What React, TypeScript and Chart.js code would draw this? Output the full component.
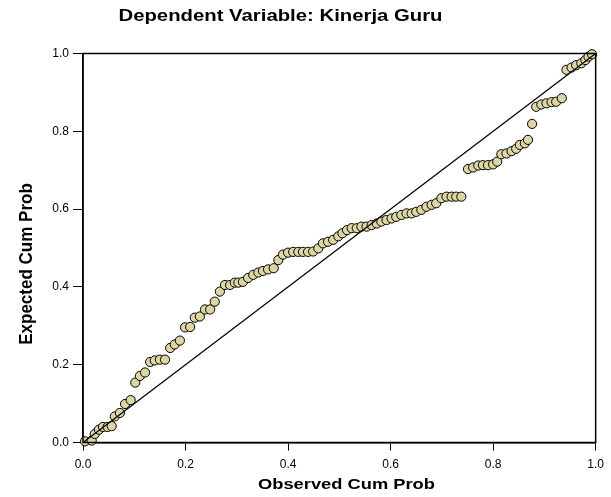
import React, { useEffect, useRef } from "react";
import { Chart, registerables } from "chart.js";

Chart.register(...registerables);

const chartTitle = "Dependent Variable: Kinerja Guru";
const xAxisTitle = "Observed Cum Prob";
const yAxisTitle = "Expected Cum Prob";
const tickValues = [0, 0.2, 0.4, 0.6, 0.8, 1.0];

const observedCumProb = [
  0.004, 0.017, 0.023, 0.031, 0.039, 0.048, 0.056, 0.062, 0.072, 0.082, 0.093, 0.102,
  0.111, 0.121, 0.131, 0.140, 0.150, 0.160, 0.170, 0.179, 0.189, 0.199, 0.209, 0.218,
  0.228, 0.238, 0.248, 0.257, 0.267, 0.277, 0.287, 0.296, 0.303, 0.312, 0.322, 0.332,
  0.342, 0.351, 0.361, 0.372, 0.381,
  0.390, 0.400, 0.410, 0.420, 0.429, 0.439, 0.449, 0.459, 0.468, 0.478, 0.488, 0.498,
  0.506, 0.515, 0.524, 0.534, 0.543, 0.553, 0.563, 0.573, 0.582, 0.592, 0.602, 0.611,
  0.621, 0.631, 0.641, 0.650, 0.660, 0.670, 0.680, 0.689, 0.699, 0.709, 0.719, 0.728,
  0.738,
  0.751, 0.761, 0.771, 0.780, 0.790, 0.800, 0.808, 0.816, 0.826, 0.836, 0.845, 0.852,
  0.862, 0.868, 0.876, 0.884, 0.894, 0.904, 0.914, 0.923, 0.934,
  0.943, 0.953, 0.962, 0.972, 0.980, 0.986, 0.993,
];

const expectedCumProb = [
  0.003, 0.005, 0.022, 0.033, 0.040, 0.040, 0.042, 0.067, 0.076, 0.099, 0.109, 0.154,
  0.171, 0.180, 0.207, 0.211, 0.213, 0.213, 0.243, 0.252, 0.262, 0.296, 0.297, 0.321,
  0.324, 0.342, 0.342, 0.362, 0.388, 0.405, 0.405, 0.411, 0.411, 0.413, 0.423, 0.431,
  0.437, 0.441, 0.445, 0.448, 0.469,
  0.483, 0.488, 0.490, 0.490, 0.490, 0.490, 0.491, 0.499, 0.512, 0.516, 0.521, 0.530,
  0.538, 0.546, 0.551, 0.551, 0.555, 0.555, 0.559, 0.563, 0.568, 0.572, 0.576, 0.580,
  0.585, 0.589, 0.589, 0.593, 0.598, 0.606, 0.611, 0.615, 0.628, 0.632, 0.632, 0.632,
  0.632,
  0.703, 0.707, 0.712, 0.713, 0.713, 0.715, 0.722, 0.741, 0.743, 0.749, 0.755, 0.765,
  0.769, 0.778, 0.819, 0.863, 0.869, 0.872, 0.875, 0.876, 0.885,
  0.958, 0.964, 0.970, 0.975, 0.983, 0.992, 0.998,
];

const diagonalX = [0, 1];
const diagonalY = [0, 1];

const FONT = "'Liberation Sans', Arial, sans-serif";

function stretchedText(ctx: any, text: string, cx: number, cy: number, sx: number, rotate: boolean) {
  ctx.save();
  ctx.translate(cx, cy);
  if (rotate) {
    ctx.rotate(-Math.PI / 2);
    ctx.scale(1, sx);
  } else {
    ctx.scale(sx, 1);
  }
  ctx.fillText(text, 0, 0);
  ctx.restore();
}

const textPlugin = {
  id: "textPlugin",
  afterDraw(chart: any) {
    const { ctx, chartArea } = chart;
    ctx.save();
    ctx.strokeStyle = "#000";
    ctx.lineWidth = 1.5;
    ctx.strokeRect(chartArea.left, chartArea.top, chartArea.right - chartArea.left, chartArea.bottom - chartArea.top);
    ctx.fillStyle = "#000";
    ctx.textAlign = "center";
    ctx.textBaseline = "middle";
    ctx.font = `bold 16px ${FONT}`;
    stretchedText(ctx, chartTitle, 280.5, 17, 1.27, false);
    ctx.font = `bold 15px ${FONT}`;
    stretchedText(ctx, xAxisTitle, 346.5, 485, 1.22, false);
    ctx.font = `bold 17px ${FONT}`;
    stretchedText(ctx, yAxisTitle, 27, 264, 1.08, true);
    ctx.restore();
  },
};

export default function App() {
  const ref = useRef<HTMLCanvasElement | null>(null);
  useEffect(() => {
    if (!ref.current) return;
    const points = observedCumProb.map((x, i) => ({ x, y: expectedCumProb[i] }));
    const diag = diagonalX.map((x, i) => ({ x, y: diagonalY[i] }));
    const chart = new Chart(ref.current, {
      type: "scatter",
      data: {
        datasets: [
          {
            type: "line",
            data: diag,
            borderColor: "#000",
            borderWidth: 1.3,
            pointRadius: 0,
            fill: false,
          } as any,
          {
            data: points,
            backgroundColor: "#ddd6a2",
            borderColor: "#000",
            borderWidth: 1,
            pointRadius: 4.6,
            clip: false,
          } as any,
        ],
      },
      options: {
        responsive: false,
        animation: false,
        devicePixelRatio: 1,
        layout: { padding: { left: 0, top: 53.5, right: 15, bottom: 0 } },
        plugins: { legend: { display: false }, tooltip: { enabled: false }, title: { display: false } },
        scales: {
          x: {
            type: "linear",
            min: 0,
            max: 1,
            afterBuildTicks: (s: any) => { s.ticks = tickValues.map((v) => ({ value: v })); },
            afterFit: (s: any) => { s.height = 497 - 442.5; },
            ticks: {
              color: "#000",
              font: { family: FONT, size: 12 },
              padding: 7,
              maxRotation: 0,
              callback: (v: any) => Number(v).toFixed(1),
            },
            grid: { drawOnChartArea: false, tickLength: 8, color: "#000", lineWidth: 1 },
            border: { color: "#000", width: 1.5 },
          },
          y: {
            type: "linear",
            min: 0,
            max: 1,
            afterBuildTicks: (s: any) => { s.ticks = tickValues.map((v) => ({ value: v })); },
            afterFit: (s: any) => { s.width = 83; },
            ticks: {
              color: "#000",
              font: { family: FONT, size: 12 },
              padding: 4,
              callback: (v: any) => Number(v).toFixed(1),
            },
            grid: { drawOnChartArea: false, tickLength: 10, color: "#000", lineWidth: 1 },
            border: { color: "#000", width: 1.5 },
          },
        },
      },
      plugins: [textPlugin],
    });
    return () => chart.destroy();
  }, []);
  return (
    <div style={{ position: "absolute", left: 0, top: 0, width: 611, height: 497, background: "#fff" }}>
      <canvas ref={ref} width={611} height={497} style={{ width: 611, height: 497, display: "block" }} />
    </div>
  );
}
